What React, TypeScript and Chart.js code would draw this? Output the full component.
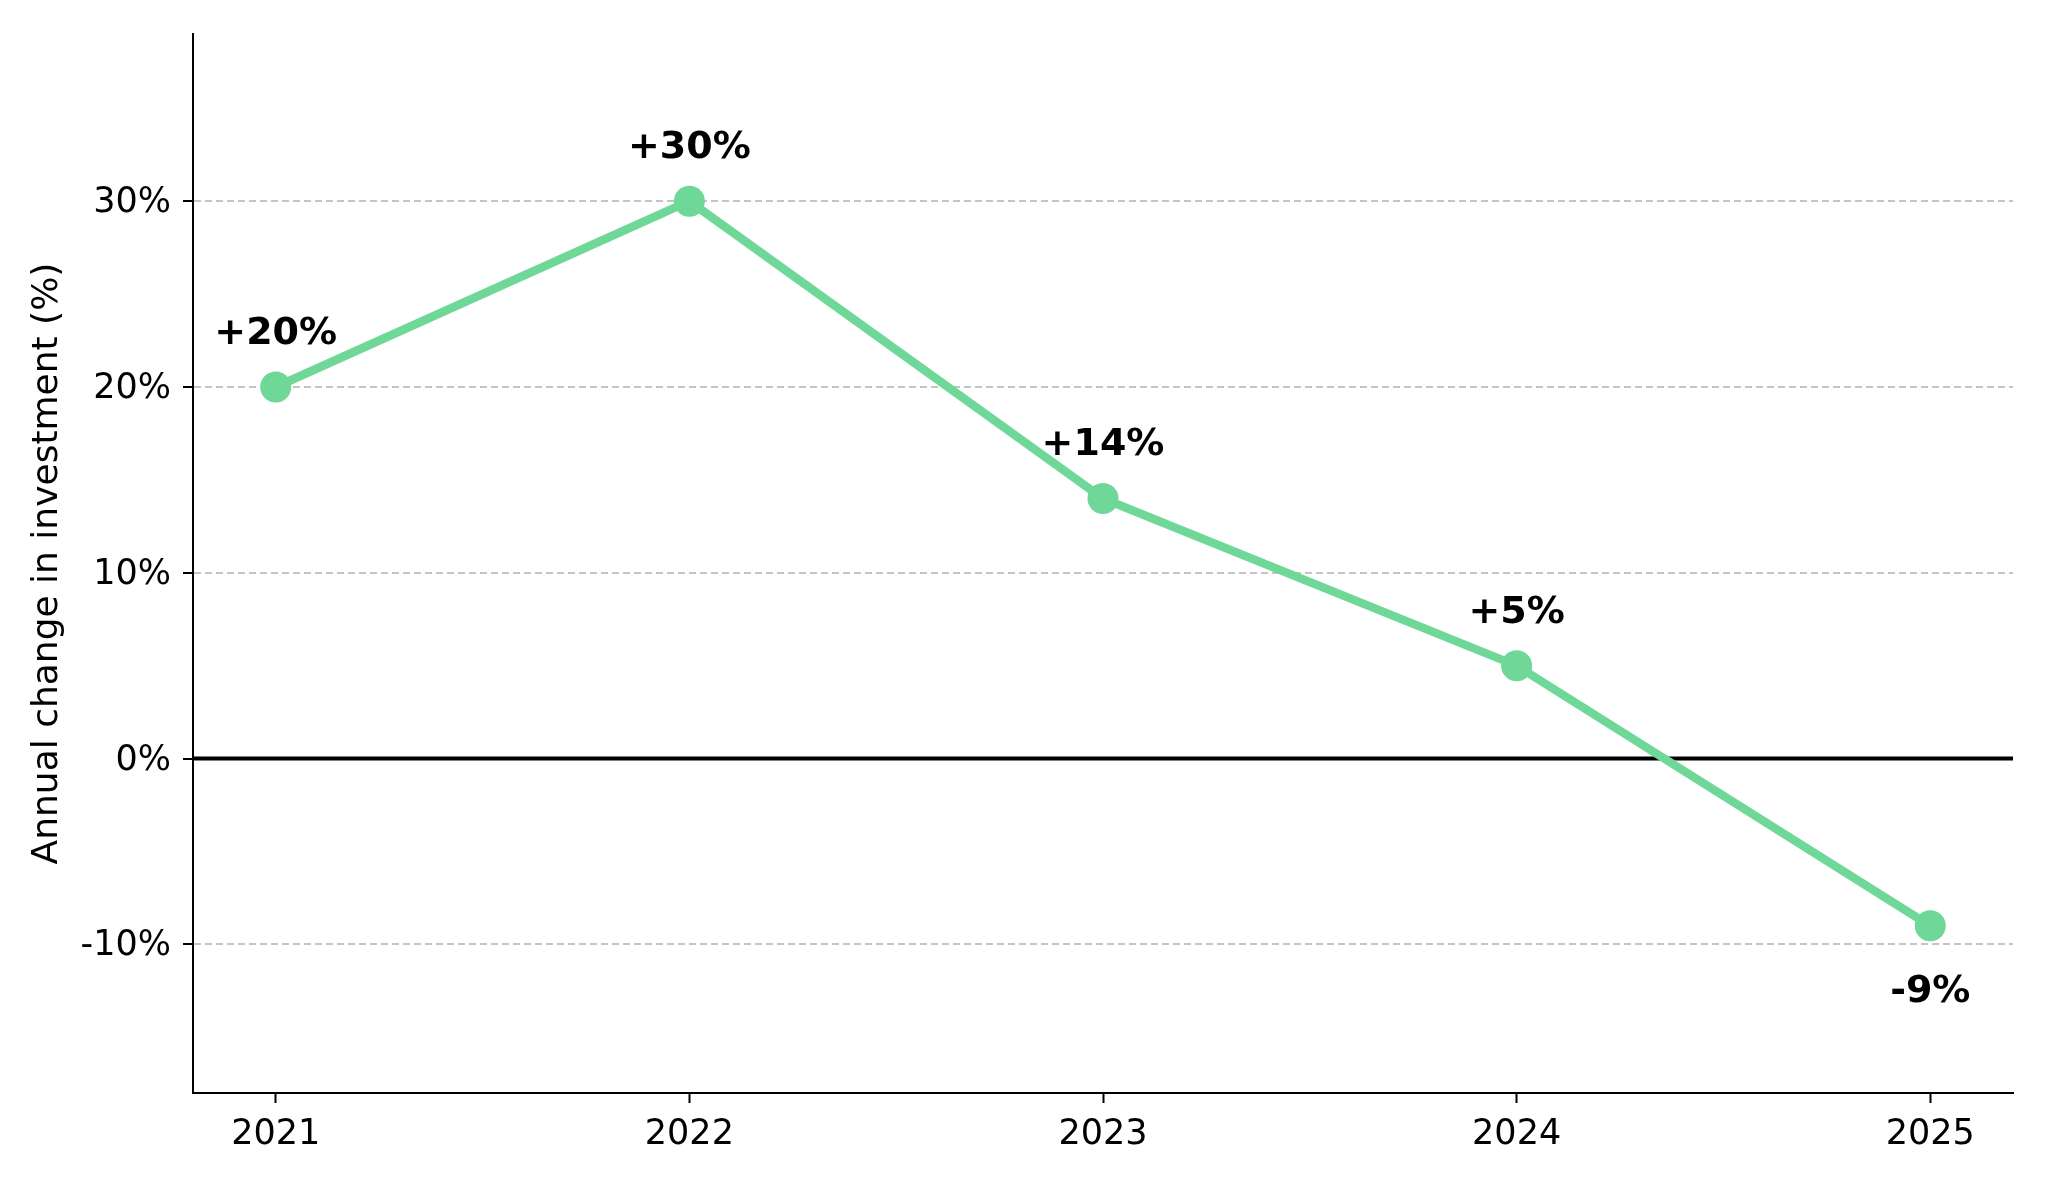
import { useEffect, useRef } from "react"
import { Chart, registerables } from "chart.js"

Chart.register(...registerables)

// Data
const years = [2021, 2022, 2023, 2024, 2025]
const changes = [20, 30, 14, 5, -9]
const yTicks = [-10, 0, 10, 20, 30]

const GREEN = "#6fd898"
const FONT = "'DejaVu Sans', sans-serif"

// solid black line at 0%
const zeroLine = {
  id: "zeroLine",
  beforeDatasetsDraw(chart: Chart) {
    const { ctx, chartArea, scales } = chart
    const y = scales.y.getPixelForValue(0)
    ctx.save()
    ctx.strokeStyle = "#000"
    ctx.lineWidth = 4
    ctx.beginPath()
    ctx.moveTo(chartArea.left, y)
    ctx.lineTo(chartArea.right, y)
    ctx.stroke()
    ctx.restore()
  },
}

// bold value labels above / below each point
const valueLabels = {
  id: "valueLabels",
  afterDatasetsDraw(chart: Chart) {
    const { ctx } = chart
    const meta = chart.getDatasetMeta(0)
    ctx.save()
    ctx.font = `bold 38px ${FONT}`
    ctx.fillStyle = "#000"
    ctx.textAlign = "center"
    ctx.textBaseline = "alphabetic"
    meta.data.forEach((pt, i) => {
      const v = changes[i]
      const text = (v > 0 ? "+" : "") + v + "%"
      const y = v >= 0 ? pt.y - 43 : pt.y + 76
      ctx.fillText(text, pt.x, y)
    })
    ctx.restore()
  },
}

export default function App() {
  const chartRef = useRef<HTMLCanvasElement>(null)
  const chartInstance = useRef<Chart | null>(null)

  useEffect(() => {
    document.body.style.margin = "0"
    if (!chartRef.current) return
    if (chartInstance.current) chartInstance.current.destroy()
    const ctx = chartRef.current.getContext("2d")
    if (!ctx) return

    Chart.defaults.font.family = FONT
    Chart.defaults.color = "#000"

    chartInstance.current = new Chart(ctx, {
      type: "line",
      data: {
        datasets: [
          {
            data: years.map((x, i) => ({ x, y: changes[i] })),
            borderColor: GREEN,
            backgroundColor: GREEN,
            borderWidth: 8.5,
            pointRadius: 15.5,
            pointBorderWidth: 0,
            pointBackgroundColor: GREEN,
            tension: 0,
            clip: false,
          },
        ],
      },
      options: {
        responsive: false,
        animation: false,
        devicePixelRatio: 1,
        layout: { padding: { top: 34, right: 35, left: 0, bottom: 0 } },
        plugins: {
          legend: { display: false },
          tooltip: { enabled: false },
        },
        scales: {
          x: {
            type: "linear",
            min: 2020.8,
            max: 2025.2,
            afterBuildTicks: (scale: any) => {
              scale.ticks = years.map((v) => ({ value: v }))
            },
            afterFit: (scale: any) => {
              scale.height = 90
            },
            ticks: {
              font: { size: 35 },
              padding: 11,
              maxRotation: 0,
              callback: (v: any) => String(v),
            },
            grid: {
              drawOnChartArea: false,
              drawTicks: true,
              tickLength: 10,
              tickColor: "#000",
              tickWidth: 2,
            },
            border: { color: "#000", width: 2 },
          },
          y: {
            type: "linear",
            min: -18,
            max: 39,
            afterBuildTicks: (scale: any) => {
              scale.ticks = yTicks.map((v) => ({ value: v }))
            },
            afterFit: (scale: any) => {
              scale.width = 193
            },
            ticks: {
              font: { size: 35 },
              padding: 12,
              labelOffset: 2,
              callback: (v: any) => `${v}%`,
            },
            grid: {
              color: "#c4c4c4",
              lineWidth: 2,
              drawTicks: true,
              tickLength: 10,
              tickColor: "#000",
              tickWidth: 2,
              tickBorderDash: [],
            },
            border: { color: "#000", width: 2, dash: [7, 4] },
            title: {
              display: true,
              text: "Annual change in investment (%)",
              font: { size: 36 },
              padding: { top: 26, bottom: 0 },
            },
          },
        },
      },
      plugins: [zeroLine, valueLabels],
    })

    return () => {
      if (chartInstance.current) {
        chartInstance.current.destroy()
        chartInstance.current = null
      }
    }
  }, [])

  return (
    <div style={{ width: 2048, height: 1183, background: "#fff" }}>
      <canvas ref={chartRef} width={2048} height={1183} style={{ display: "block" }} />
    </div>
  )
}
